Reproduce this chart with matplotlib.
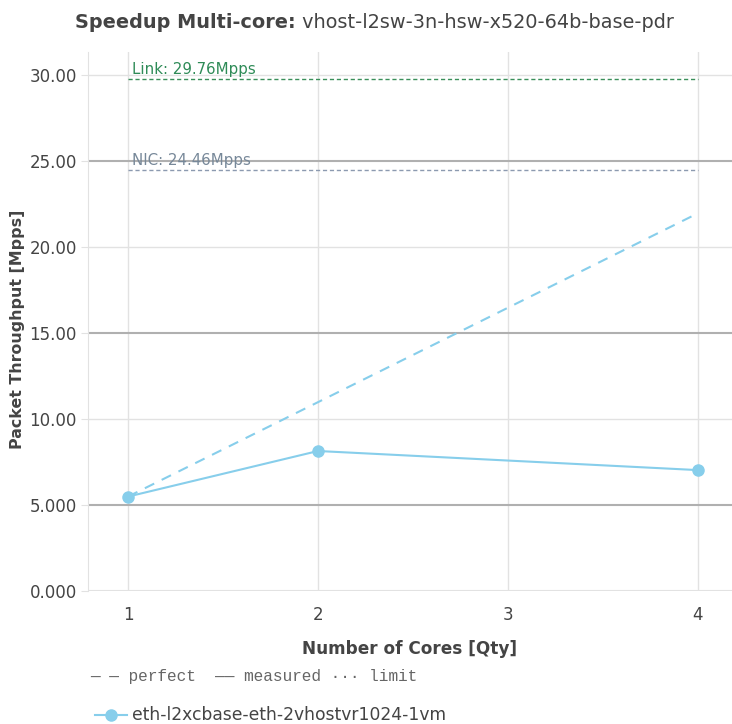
#!/usr/bin/env python3
"""Speedup multi-core chart, vhost-l2sw 3n-hsw x520 64b base pdr."""
import numpy as np
import matplotlib
matplotlib.use('Agg')
import matplotlib.pyplot as plt
from matplotlib.lines import Line2D

plt.rcParams['font.family'] = ['DejaVu Sans']

# data
cores = [1, 2, 4]
measured = [5.49, 8.14, 7.03]
perfect = [5.49, 10.98, 21.96]
link_mpps = 29.76
nic_mpps = 24.46
series_name = 'eth-l2xcbase-eth-2vhostvr1024-1vm'
x_ticks = [1, 2, 3, 4]
y_ticks = [0, 5, 10, 15, 20, 25, 30]
y_labels = ['0.000', '5.000', '10.00', '15.00', '20.00', '25.00', '30.00']

TXT = '#444444'
BLUE = '#87ceeb'
W, H = 732, 724

fig = plt.figure(figsize=(W/100, H/100), dpi=100)
ax = fig.add_axes([88/W, (H-591)/H, (732-88)/W, (591-52)/H])
ax.set_xlim(0.789, 4.18)
ax.set_ylim(0, 31.34)

# grid
for x in x_ticks:
    ax.axvline(x, color='#e2e2e2', lw=1, zorder=0)
for y in y_ticks[1:]:
    dark = (y % 10) == 5
    ax.axhline(y, color='#b0b0b0' if dark else '#e2e2e2', lw=1.5 if dark else 1, zorder=0)

for s in ['top', 'right', 'bottom']:
    ax.spines[s].set_visible(False)
ax.spines['left'].set_color('#e2e2e2')
ax.axhline(0, color='#e2e2e2', lw=1.5, zorder=0)

# limit lines
ax.plot([1, 4], [link_mpps]*2, color='#3a8f5a', ls=(0, (3, 2)), lw=1, zorder=2)
ax.plot([1, 4], [nic_mpps]*2, color='#8c9ab0', ls=(0, (3, 2)), lw=1, zorder=2)
ax.text(1.02, link_mpps + 0.15, f'Link: {link_mpps:.2f}Mpps', color='#2e8b57',
        fontsize=10.8, va='bottom', ha='left')
ax.text(1.02, nic_mpps + 0.15, f'NIC: {nic_mpps:.2f}Mpps', color='#778899',
        fontsize=10.8, va='bottom', ha='left')

# series
ax.plot(cores, perfect, color=BLUE, ls=(0, (5, 4)), lw=1.5, zorder=3)
ax.plot(cores, measured, color=BLUE, lw=1.5, marker='o', ms=8, zorder=4)

ax.set_xticks(x_ticks)
ax.set_xticklabels([str(x) for x in x_ticks])
ax.set_yticks(y_ticks)
ax.set_yticklabels(y_labels)
ax.tick_params(axis='x', length=0, pad=11, labelsize=12, labelcolor=TXT)
ax.tick_params(axis='y', length=5, color='#e2e2e2', pad=3, labelsize=12, labelcolor=TXT)

ax.set_xlabel('Number of Cores [Qty]', fontsize=12.2, fontweight='bold', color=TXT, labelpad=11)
ax.set_ylabel('Packet Throughput [Mpps]', fontsize=11.4, fontweight='bold', color=TXT)
ax.yaxis.set_label_coords(-(88 - 25) / (732 - 88), (591 - 329) / (591 - 52))

# title, bold prefix followed by plain test name, centred as a pair
ty = 1 - 22/H
t0 = fig.text(0.5, ty, 'Speedup Multi-core:', fontsize=13.9, fontweight='bold', color=TXT,
              ha='left', va='center')
t1 = fig.text(0.5, ty, ' vhost-l2sw-3n-hsw-x520-64b-base-pdr', fontsize=13.9, color=TXT,
              ha='left', va='center')
fig.canvas.draw()
r = fig.canvas.get_renderer()
w0 = t0.get_window_extent(r).width
w1 = t1.get_window_extent(r).width
left = 374.5 - (w0 + w1) / 2
t0.set_position((left / W, ty))
t1.set_position(((left + w0) / W, ty))

# line-style key
fig.text(90/W, 1 - 677/H, '\u2014 \u2014 perfect  \u2014\u2014 measured \u00b7\u00b7\u00b7 limit',
         family='Liberation Mono', fontsize=11.6, color='#666666', va='center', ha='left')

# legend entry
fig.add_artist(Line2D([95/W, 127/W], [1 - 715/H]*2, color=BLUE, lw=1.5,
                      transform=fig.transFigure))
fig.add_artist(Line2D([111/W], [1 - 715/H], color=BLUE, marker='o', ms=8,
                      transform=fig.transFigure))
fig.text(132/W, 1 - 715/H, series_name, fontsize=12.3, color=TXT, va='center', ha='left')

fig.savefig('out.png', dpi=100)
